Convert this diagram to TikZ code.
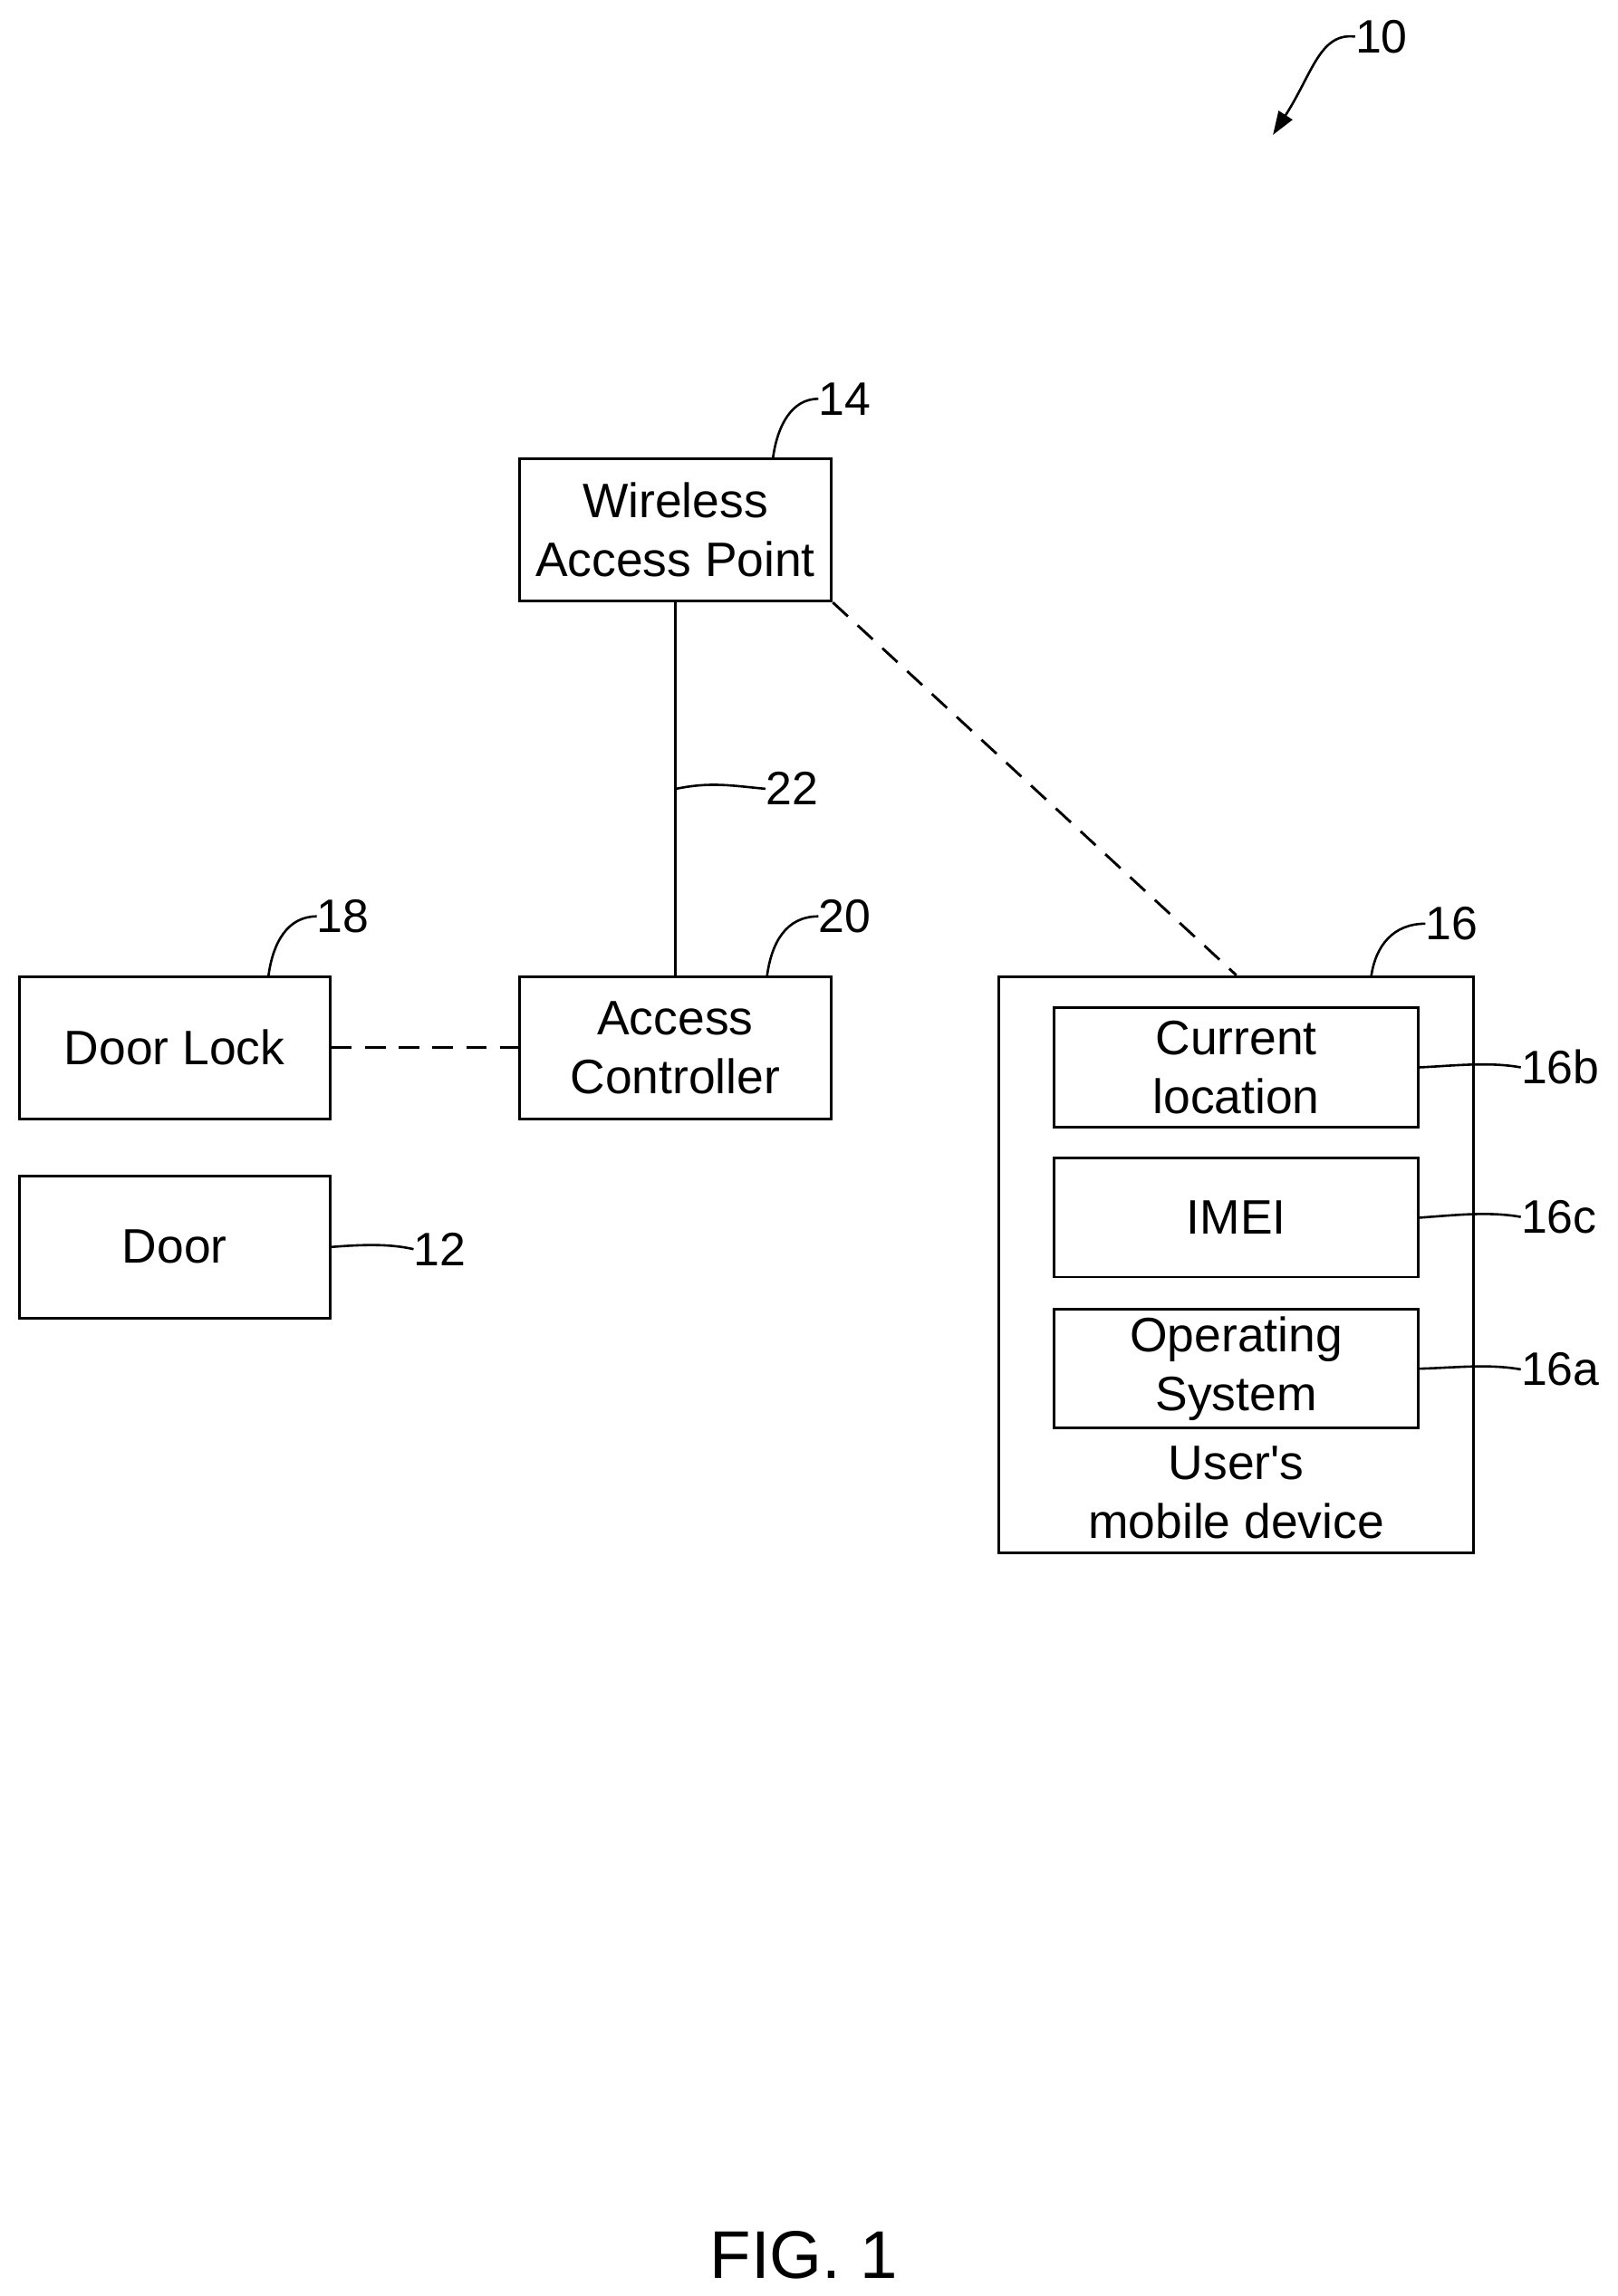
\documentclass[tikz,border=0pt]{standalone}
\usepackage{fontspec}
\setmainfont{Liberation Sans}
\usetikzlibrary{arrows.meta}
\begin{document}
\begin{tikzpicture}[x=1pt,y=-1pt,
  box/.style={draw,line width=1.8pt,align=center,font=\fontsize{33}{40}\selectfont,inner sep=0pt},
  lead/.style={line width=1.6pt},
  lbl/.style={font=\fontsize{32}{34}\selectfont,inner sep=0pt},
  dsh/.style={line width=1.8pt,dash pattern=on 14pt off 9pt}]
\useasboundingbox (0,0) rectangle (1103,1566);
\node[box,minimum width=213pt,minimum height=97pt] (wap) at (460.5,361.5) {Wireless\\Access Point};
\node[box,minimum width=213pt,minimum height=97pt] (ac) at (460.5,714.5) {Access\\Controller};
\node[box,minimum width=212pt,minimum height=97pt] (dl) at (119,714.5) {Door Lock};
\node[box,minimum width=212pt,minimum height=97pt] (door) at (119,850.5) {Door};
\node[box,minimum width=324pt,minimum height=393pt] (mob) at (843,862.5) {};
\node[box,minimum width=248pt,minimum height=82pt] (cl) at (843,728) {Current\\location};
\node[box,minimum width=248pt,minimum height=81pt] (imei) at (843,830.5) {IMEI};
\node[box,minimum width=248pt,minimum height=81pt] (os) at (843,933.5) {Operating\\System};
\node[box,draw=none] (ut) at (843,1018) {User\textquotesingle s\\mobile device};
\draw[line width=1.8pt] (wap.south) -- (ac.north);
\draw[dsh] (wap.south east) -- (mob.north);
\draw[dsh] (dl.east) -- (ac.west);
% leaders
\node[lbl,anchor=west] (l22) at (522,538) {22};
\draw[lead] (461,538) .. controls (485,533) and (500,536) .. (l22.west);
\node[lbl,anchor=west] (l14) at (558,272) {14};
\draw[lead] (527,313) .. controls (530,290) and (540,272) .. (l14.west);
\node[lbl,anchor=west] (l18) at (216,625) {18};
\draw[lead] (183,666) .. controls (186,643) and (196,625) .. (l18.west);
\node[lbl,anchor=west] (l20) at (558,625) {20};
\draw[lead] (523,666) .. controls (526,643) and (536,625) .. (l20.west);
\node[lbl,anchor=west] (l16) at (972,630) {16};
\draw[lead] (935,666) .. controls (938,645) and (950,630) .. (l16.west);
\node[lbl,anchor=west] (l16b) at (1037,728) {16b};
\draw[lead] (cl.east) .. controls (990,727) and (1015,724) .. (l16b.west);
\node[lbl,anchor=west] (l16c) at (1037,830) {16c};
\draw[lead] (imei.east) .. controls (990,829) and (1015,826) .. (l16c.west);
\node[lbl,anchor=west] (l16a) at (1037,934) {16a};
\draw[lead] (os.east) .. controls (990,933) and (1015,930) .. (l16a.west);
\node[lbl,anchor=west] (l12) at (282,852) {12};
\draw[lead] (door.east) .. controls (245,849) and (265,848) .. (l12.west);
\node[lbl,anchor=west] (l10) at (924,25) {10};
\coordinate (a10) at (868,92);
\draw[lead,-{Triangle[length=16pt,width=11pt]}] (l10.west) .. controls (900,22) and (895,50) .. (a10);
\node[font=\fontsize{46}{50}\selectfont] (fig) at (548,1538) {FIG. 1};
\end{tikzpicture}
\end{document}
